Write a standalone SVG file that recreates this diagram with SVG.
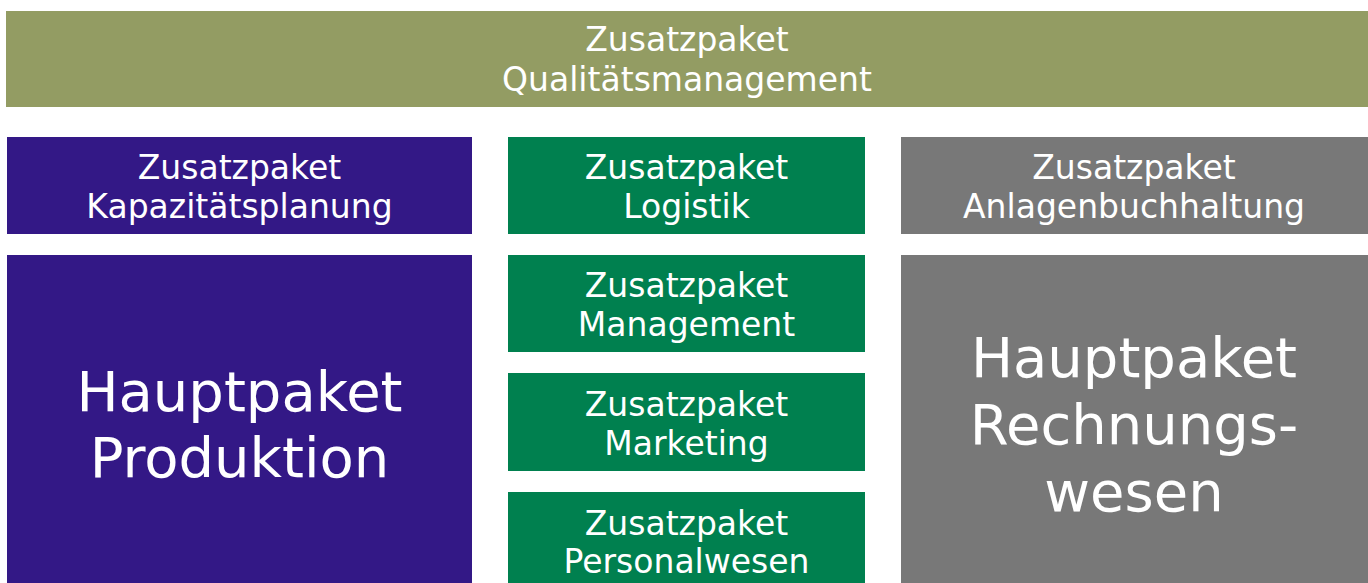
<svg xmlns="http://www.w3.org/2000/svg" width="1368" height="583" viewBox="0 0 1368 583">
<style>
  .t{font-family:"DejaVu Sans",Verdana,sans-serif;fill:#ffffff;text-anchor:middle}
  .s{font-size:33px}
  .b{font-size:56px}
  .olive{fill:#939C63}
  .purple{fill:#331886}
  .green{fill:#00804F}
  .gray{fill:#787878}
</style>
<rect width="1368" height="583" fill="#ffffff"/>
<g id="qualitaet">
  <rect class="olive" x="6" y="11" width="1362" height="96"/>
  <text class="t s" x="687" y="51">Zusatzpaket</text>
  <text class="t s" x="687" y="91">Qualitätsmanagement</text>
</g>
<g id="kapazitaet">
  <rect class="purple" x="7" y="137" width="465" height="97"/>
  <text class="t s" x="239.5" y="179">Zusatzpaket</text>
  <text class="t s" x="239.5" y="218">Kapazitätsplanung</text>
</g>
<g id="produktion">
  <rect class="purple" x="7" y="255" width="465" height="328"/>
  <text class="t b" x="239.5" y="411">Hauptpaket</text>
  <text class="t b" x="239.5" y="477">Produktion</text>
</g>
<g id="logistik">
  <rect class="green" x="508" y="137" width="357" height="97"/>
  <text class="t s" x="686.5" y="179">Zusatzpaket</text>
  <text class="t s" x="686.5" y="218">Logistik</text>
</g>
<g id="management">
  <rect class="green" x="508" y="255" width="357" height="97"/>
  <text class="t s" x="686.5" y="297">Zusatzpaket</text>
  <text class="t s" x="686.5" y="336">Management</text>
</g>
<g id="marketing">
  <rect class="green" x="508" y="373" width="357" height="98"/>
  <text class="t s" x="686.5" y="416">Zusatzpaket</text>
  <text class="t s" x="686.5" y="455">Marketing</text>
</g>
<g id="personalwesen">
  <rect class="green" x="508" y="492" width="357" height="91"/>
  <text class="t s" x="686.5" y="535">Zusatzpaket</text>
  <text class="t s" x="686.5" y="573">Personalwesen</text>
</g>
<g id="anlagenbuchhaltung">
  <rect class="gray" x="901" y="137" width="467" height="97"/>
  <text class="t s" x="1134" y="179">Zusatzpaket</text>
  <text class="t s" x="1134" y="218">Anlagenbuchhaltung</text>
</g>
<g id="rechnungswesen">
  <rect class="gray" x="901" y="255" width="467" height="328"/>
  <text class="t b" x="1134" y="377">Hauptpaket</text>
  <text class="t b" x="1134" y="444">Rechnungs-</text>
  <text class="t b" x="1134" y="511">wesen</text>
</g>
<g id="connectors"></g>
</svg>
